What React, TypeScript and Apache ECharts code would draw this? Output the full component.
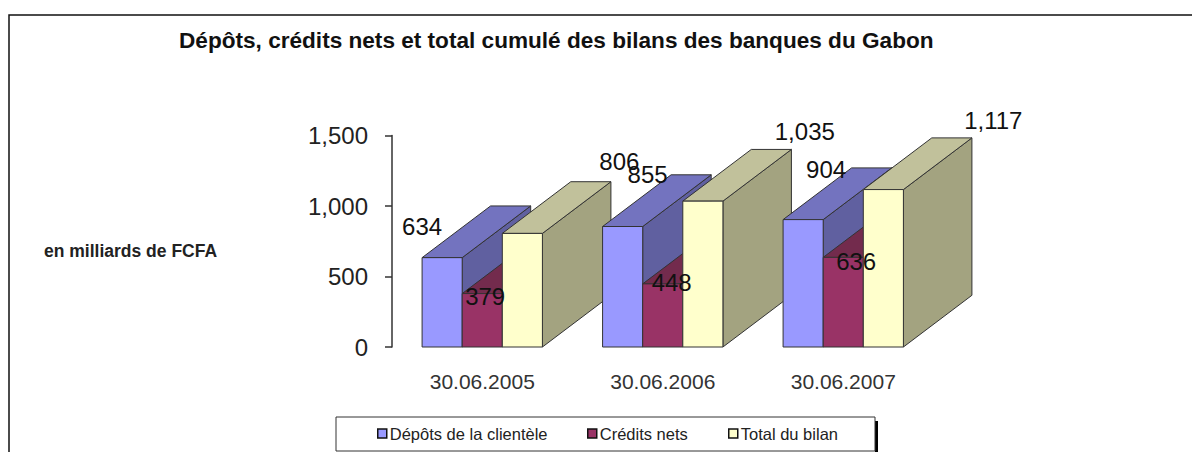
import React, { useEffect, useRef } from "react";
import * as echarts from "echarts";

const categories = ["30.06.2005", "30.06.2006", "30.06.2007"];
const depots = [634, 855, 904];
const credits = [379, 448, 636];
const totals = [806, 1035, 1117];
const yTicks = { min: 0, max: 1500, interval: 500 };

const FONT = "'Liberation Sans', Arial, sans-serif";
const DEPTH_X = 68.5;
const DEPTH_Y = 51.7;
const BAR_SHARE = 1 / 4.5;

// label centre relative to (bar left, bar top), one pair per category
const labelOffsets = [
  [[0, -31], [45, -52], [43, -50]],
  [[23, 2.5], [29, -1], [33, 4]],
  [[117, -72], [122, -70], [130, -69]],
];

const palettes = [
  { front: "#9999ff", top: "#7373bf", side: "#6060a0" },
  { front: "#993366", top: "#732b4d", side: "#662244" },
  { front: "#ffffcc", top: "#c1c19b", side: "#a3a380" },
];

function fmt(v: number) {
  return String(v).replace(/\B(?=(\d{3})+(?!\d))/g, ",");
}

function makeSeries(name: string, values: number[], sIdx: number) {
  const pal = palettes[sIdx];
  return {
    name,
    type: "custom",
    coordinateSystem: "cartesian2d",
    itemStyle: { color: pal.front },
    data: values.map((v, i) => [i, v]),
    encode: { x: 0, y: 1 },
    renderItem: (_params: any, api: any) => {
      const cat = api.value(0);
      const val = api.value(1);
      const top = api.coord([cat, val]);
      const base = api.coord([cat, 0]);
      const w = api.size([1, 0])[0] * BAR_SHARE;
      const x0 = top[0] + (sIdx - 1.5) * w;
      const x1 = x0 + w;
      const y0 = top[1];
      const yb = base[1];
      const order = cat * 100 + sIdx * 10;
      const stroke = { stroke: "#333333", lineWidth: 1, lineJoin: "round" };
      const [ox, oy] = labelOffsets[sIdx][cat];
      return {
        type: "group",
        children: [
          {
            type: "polygon",
            z2: order + 1,
            shape: { points: [[x1, y0], [x1 + DEPTH_X, y0 - DEPTH_Y], [x1 + DEPTH_X, yb - DEPTH_Y], [x1, yb]] },
            style: { fill: pal.side, ...stroke },
          },
          {
            type: "polygon",
            z2: order + 2,
            shape: { points: [[x0, y0], [x0 + DEPTH_X, y0 - DEPTH_Y], [x1 + DEPTH_X, y0 - DEPTH_Y], [x1, y0]] },
            style: { fill: pal.top, ...stroke },
          },
          {
            type: "polygon",
            z2: order + 3,
            shape: { points: [[x0, y0], [x1, y0], [x1, yb], [x0, yb]] },
            style: { fill: pal.front, ...stroke },
          },
          {
            type: "text",
            z2: 1000,
            style: {
              text: fmt(val),
              x: x0 + ox,
              y: y0 + oy,
              align: "center",
              verticalAlign: "middle",
              font: `24px ${FONT}`,
              fill: "#111111",
            },
          },
        ],
      };
    },
  };
}

const legendText = { fontFamily: FONT, fontSize: 16.5, color: "#222222" };
function legendAt(name: string, left: number) {
  return {
    data: [name],
    left,
    top: 425,
    padding: 0,
    itemWidth: 9,
    itemHeight: 9,
    itemGap: 3,
    icon: "rect",
    selectedMode: false,
    itemStyle: { borderColor: "#111111", borderWidth: 1.5 },
    textStyle: { ...legendText, padding: [0, 0, 0, -2] },
  };
}

export default function App() {
  const ref = useRef<HTMLDivElement>(null);
  useEffect(() => {
    document.body.style.margin = "0";
    document.body.style.overflow = "hidden";
    const chart = echarts.init(ref.current!, undefined, { renderer: "svg" });
    chart.setOption({
      animation: false,
      backgroundColor: "#ffffff",
      title: {
        text: "Dépôts, crédits nets et total cumulé des bilans des banques du Gabon",
        left: 179,
        top: 29,
        padding: 0,
        textStyle: { fontFamily: FONT, fontSize: 22.6, fontWeight: "bold", color: "#111111" },
      },
      grid: { left: 392, top: 135.6, width: 541.5, height: 211.4, containLabel: false },
      xAxis: {
        type: "category",
        data: categories,
        axisLine: { show: false },
        axisTick: { show: false },
        axisLabel: { margin: 24, fontFamily: FONT, fontSize: 21, color: "#333333" },
      },
      yAxis: {
        type: "value",
        ...yTicks,
        splitLine: { show: false },
        axisLine: { show: true, lineStyle: { color: "#333333", width: 1.5 } },
        axisTick: { show: true, length: 7, lineStyle: { color: "#333333", width: 1.5 } },
        axisLabel: { margin: 24, fontFamily: FONT, fontSize: 24, color: "#222222", formatter: (v: number) => fmt(v) },
      },
      legend: [
        legendAt("Dépôts de la clientèle", 377),
        legendAt("Crédits nets", 587),
        legendAt("Total du bilan", 728),
      ],
      series: [
        makeSeries("Dépôts de la clientèle", depots, 0),
        makeSeries("Crédits nets", credits, 1),
        makeSeries("Total du bilan", totals, 2),
      ],
      graphic: [
        { type: "polyline", silent: true, shape: { points: [[9, 452], [9, 15], [1192, 15]] }, style: { stroke: "#111111", lineWidth: 1.5, fill: "none" } },
        { type: "rect", silent: true, shape: { x: 875, y: 421, width: 3, height: 31 }, style: { fill: "#000000" } },
        { type: "rect", silent: true, shape: { x: 336, y: 417, width: 539, height: 34 }, style: { fill: "#ffffff", stroke: "#333333", lineWidth: 1 } },
        { type: "text", silent: true, style: { text: "en milliards de FCFA", x: 44, y: 251, verticalAlign: "middle", font: `bold 17.5px ${FONT}`, fill: "#222222" } },
      ],
    });
    return () => chart.dispose();
  }, []);
  return <div ref={ref} style={{ width: 1192, height: 452 }} />;
}
